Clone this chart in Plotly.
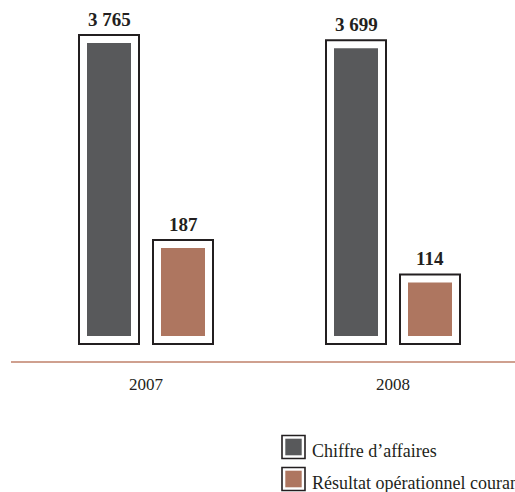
import plotly.graph_objects as go

# ---- data -------------------------------------------------------------
years = ["2007", "2008"]
chiffre_affaires = [3765, 3699]          # M€
resultat_operationnel = [187, 114]       # M€
series_names = ["Chiffre d’affaires", "Résultat opérationnel courant"]

# ---- styling / geometry (pixels) --------------------------------------
W, H = 515, 492
PLOT_L, PLOT_R, PLOT_T, PLOT_B = 11, 515, 0, 361
BASE_PX = 336            # pixel row where bars start
CAT0_PX = 146            # centre of the first year group
PX_PER_CAT = 247
BAR_PX = 44              # coloured bar width
HALF_SEP_PX = 37         # distance from group centre to bar centre
FRAME_OUT = 9            # outer edge of the black frame, from the bar edge
FRAME_GAP = 7            # white gap between bar and frame

CA_PX_PER_UNIT = 0.0778      # primary axis scale
ROC_PX_PER_UNIT = 0.47       # secondary axis scale

GREY = "#58595b"
TERRA = "#ae7660"
INK = "#231f20"
AXIS_LINE = "#cfa08f"
FONT = "Liberation Serif"

# axis ranges derived from the pixel geometry
x0 = -(CAT0_PX - PLOT_L) / PX_PER_CAT
x_range = [x0, x0 + (PLOT_R - PLOT_L) / PX_PER_CAT]


def y_range(px_per_unit):
    return [-(PLOT_B - BASE_PX) / px_per_unit, (BASE_PX - PLOT_T) / px_per_unit]


bar_w = BAR_PX / PX_PER_CAT
offsets = [(-HALF_SEP_PX - BAR_PX / 2) / PX_PER_CAT, (HALF_SEP_PX - BAR_PX / 2) / PX_PER_CAT]
centres = [-HALF_SEP_PX / PX_PER_CAT, HALF_SEP_PX / PX_PER_CAT]

fig = go.Figure()

series = [
    (series_names[0], chiffre_affaires, "y", GREY, offsets[0]),
    (series_names[1], resultat_operationnel, "y2", TERRA, offsets[1]),
]

for name, values, yax, colour, off in series:
    common = dict(x=years, y=values, yaxis=yax, width=bar_w, offset=off,
                  showlegend=False, hoverinfo="skip")
    # black frame (stroke centred on bar edge)
    fig.add_trace(go.Bar(marker=dict(color="white",
                                     line=dict(color=INK, width=2 * FRAME_OUT)),
                         **common))
    # white gap inside the frame
    fig.add_trace(go.Bar(marker=dict(color="white",
                                     line=dict(color="white", width=2 * FRAME_GAP)),
                         **common))
    # coloured bar
    fig.add_trace(go.Bar(name=name, marker=dict(color=colour, line=dict(width=0)),
                         **{**common, "hoverinfo": "x+y"}))

# value labels above each framed bar
annotations = []
for (name, values, yax, colour, off), c in zip(series, centres):
    for i, v in enumerate(values):
        annotations.append(dict(
            x=i + c, y=v, xref="x", yref=yax,
            text=f"<b>{v:,}</b>".replace(",", " "),
            showarrow=False, yanchor="bottom", yshift=11,
            font=dict(family=FONT, size=19, color=INK),
        ))


# legend drawn with framed swatches
def px_x(px):
    return (px - PLOT_L) / (PLOT_R - PLOT_L)


def px_y(py):
    return (PLOT_B - py) / (PLOT_B - PLOT_T)


shapes = []
LEG_X = 282
LEG_ROWS = [447, 479]
for (name, values, yax, colour, off), cy in zip(series, LEG_ROWS):
    shapes.append(dict(type="rect", xref="paper", yref="paper",
                       x0=px_x(LEG_X), x1=px_x(LEG_X + 23),
                       y0=px_y(cy + 11.5), y1=px_y(cy - 11.5),
                       fillcolor="white", line=dict(color=INK, width=1.6)))
    shapes.append(dict(type="rect", xref="paper", yref="paper",
                       x0=px_x(LEG_X + 3.3), x1=px_x(LEG_X + 19.7),
                       y0=px_y(cy + 8.3), y1=px_y(cy - 8.3),
                       fillcolor=colour, line=dict(width=0)))
    annotations.append(dict(
        x=px_x(LEG_X + 28), y=px_y(cy + 4), xref="paper", yref="paper",
        text=name, showarrow=False, xanchor="left", yanchor="middle",
        font=dict(family=FONT, size=18, color=INK),
    ))

fig.update_layout(
    width=W, height=H,
    margin=dict(l=PLOT_L, r=W - PLOT_R, t=PLOT_T, b=H - PLOT_B, pad=0, autoexpand=False),
    paper_bgcolor="white", plot_bgcolor="white",
    barmode="overlay",
    showlegend=False,
    font=dict(family=FONT, color=INK),
    xaxis=dict(type="category", range=x_range, showgrid=False, zeroline=False,
               showline=True, linecolor=AXIS_LINE, linewidth=1.5,
               ticks="", ticklabelstandoff=7,
               tickfont=dict(family=FONT, size=17, color=INK)),
    yaxis=dict(range=y_range(CA_PX_PER_UNIT), visible=False, showgrid=False, zeroline=False),
    yaxis2=dict(range=y_range(ROC_PX_PER_UNIT), overlaying="y", visible=False,
                showgrid=False, zeroline=False),
    annotations=annotations,
    shapes=shapes,
)

fig.write_html("out.html")
